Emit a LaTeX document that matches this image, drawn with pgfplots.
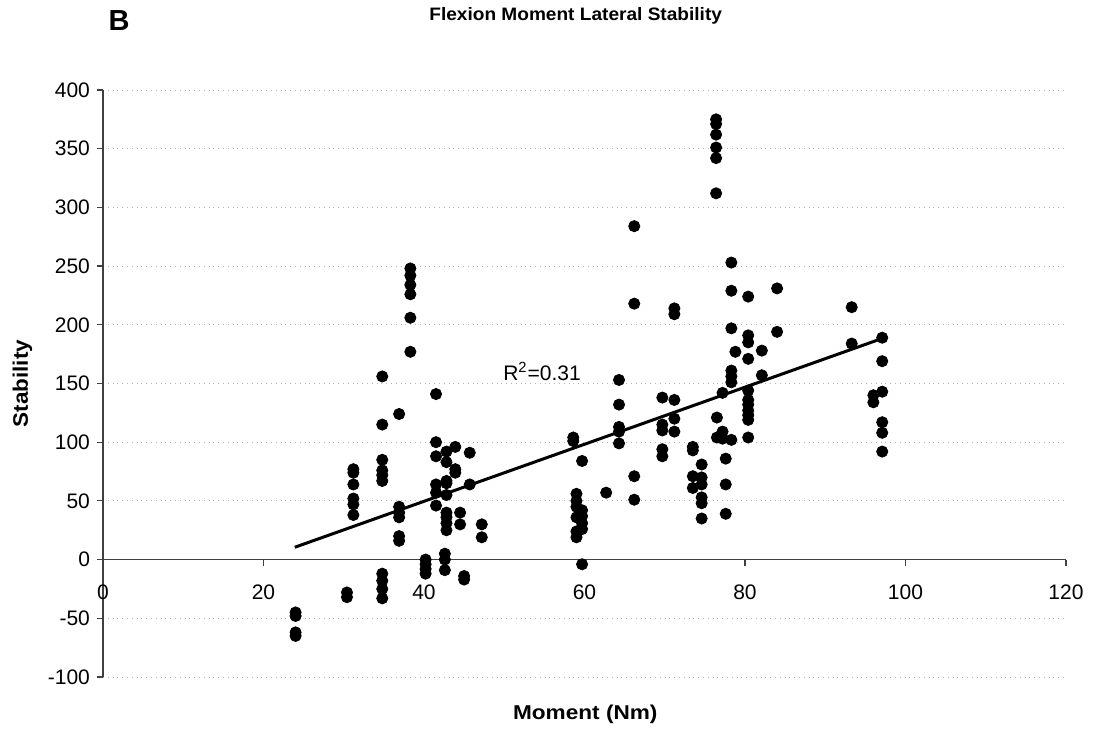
\documentclass[border=0pt]{standalone}
\usepackage{fontspec}
\setmainfont{Liberation Sans}
\usepackage{pgfplots}
\pgfplotsset{compat=1.18}

% stability vs flexion moment
\pgfplotstableread{
x y
24 -45
24 -48
24 -62
24 -65
30.4 -28
30.4 -32
31.2 77
31.2 74
31.2 64
31.2 52
31.2 47
31.2 38
34.8 156
34.8 115
34.8 85
34.8 76
34.8 72
34.8 67
34.8 -12
34.8 -18
34.8 -25
34.8 -33
36.9 124
36.9 45
36.9 40
36.9 36
36.9 20
36.9 16
38.3 248
38.3 242
38.3 234
38.3 226
38.3 206
38.3 177
40.2 0
40.2 -4
40.2 -8
40.2 -12
41.5 141
41.5 100
41.5 88
41.5 64
41.5 57
41.5 46
42.8 92
42.8 83
42.8 67
42.8 65
42.8 55
42.8 40
42.8 36
42.8 31
42.8 25
42.6 5
42.6 0
42.6 -9
43.9 96
43.9 77
43.9 74
44.5 40
44.5 30
45.7 91
45.7 64
45.0 -14
45.0 -17
47.2 30
47.2 19
58.6 104
58.6 101
59.0 56
59.0 50
59.0 45
59.0 36
59.0 24
59.0 19
59.7 84
59.7 42
59.7 37
59.7 31
59.7 26
59.7 -4
62.7 57
64.3 153
64.3 132
64.3 113
64.3 109
64.3 99
66.2 284
66.2 218
66.2 71
66.2 51
69.7 138
69.7 115
69.7 110
69.7 94
69.7 88
71.2 214
71.2 209
71.2 136
71.2 120
71.2 109
73.5 96
73.5 93
73.5 71
73.5 61
74.6 81
74.6 70
74.6 64
74.6 53
74.6 48
74.6 35
76.4 375
76.4 371
76.4 362
76.4 351
76.4 342
76.4 312
76.5 121
76.5 104
77.2 142
77.2 109
77.2 103
77.6 86
77.6 64
77.6 39
78.3 253
78.3 229
78.3 197
78.3 161
78.3 156
78.3 151
78.3 102
78.8 177
80.4 224
80.4 191
80.4 185
80.4 171
80.4 144
80.4 136
80.4 132
80.4 127
80.4 123
80.4 119
80.4 104
82.1 178
82.1 157
84.0 231
84.0 194
93.3 215
93.3 184
96.0 140
96.0 134
97.1 189
97.1 169
97.1 143
97.1 117
97.1 108
97.1 92
}\stab

\begin{document}
\begin{tikzpicture}
\useasboundingbox (-51.5pt,-27.5pt) rectangle (495.5pt,338.5pt);
\begin{axis}[
  at={(0,0)}, anchor=south west,
  scale only axis, width=481.5pt, height=293.5pt,
  xmin=0, xmax=120, ymin=-100, ymax=400,
  axis x line=middle, axis y line=left,
  axis line style={-, black!75, line width=0.8pt},
  hide obscured x ticks=false, hide obscured y ticks=false,
  xtick={0,20,...,120}, ytick={-100,-50,...,400},
  tick align=outside, major tick length=3pt,
  tick style={black!75, line width=0.6pt},
  ymajorgrids, major grid style={dotted, black!30, line width=0.4pt},
  ticklabel style={font=\fontsize{10.5}{12}\selectfont},
  /pgf/number format/assume math mode=true,
  xticklabel style={yshift=-6pt},
  clip=false,
]
\addplot[only marks, mark=*, mark size=2.8pt, black] table[x=x, y=y] {\stab};
\addplot[black, line width=1.5pt] coordinates {(23.9,10.5) (97.1,188.4)};

\node[anchor=base west, font=\fontsize{10.5}{12}\selectfont] at (axis cs:49.0,152.4) {R\textsuperscript{2}=0.31};
\node[anchor=base, font=\bfseries\fontsize{9}{10}\selectfont] at (axis cs:58.9,459.6) {\scalebox{1.06}[1]{Flexion Moment Lateral Stability}};
\node[anchor=base, font=\bfseries\fontsize{14.5}{16}\selectfont] at (axis cs:2.0,450.3) {B};
\node[anchor=base, font=\bfseries\fontsize{10}{12}\selectfont] at (axis cs:60.1,-136.6) {\scalebox{1.13}[1]{Moment (Nm)}};
\node[anchor=base, rotate=90, font=\bfseries\fontsize{10.5}{12}\selectfont] at (axis cs:-9.35,150) {\scalebox{1.07}[1]{Stability}};
\end{axis}
\end{tikzpicture}
\end{document}
